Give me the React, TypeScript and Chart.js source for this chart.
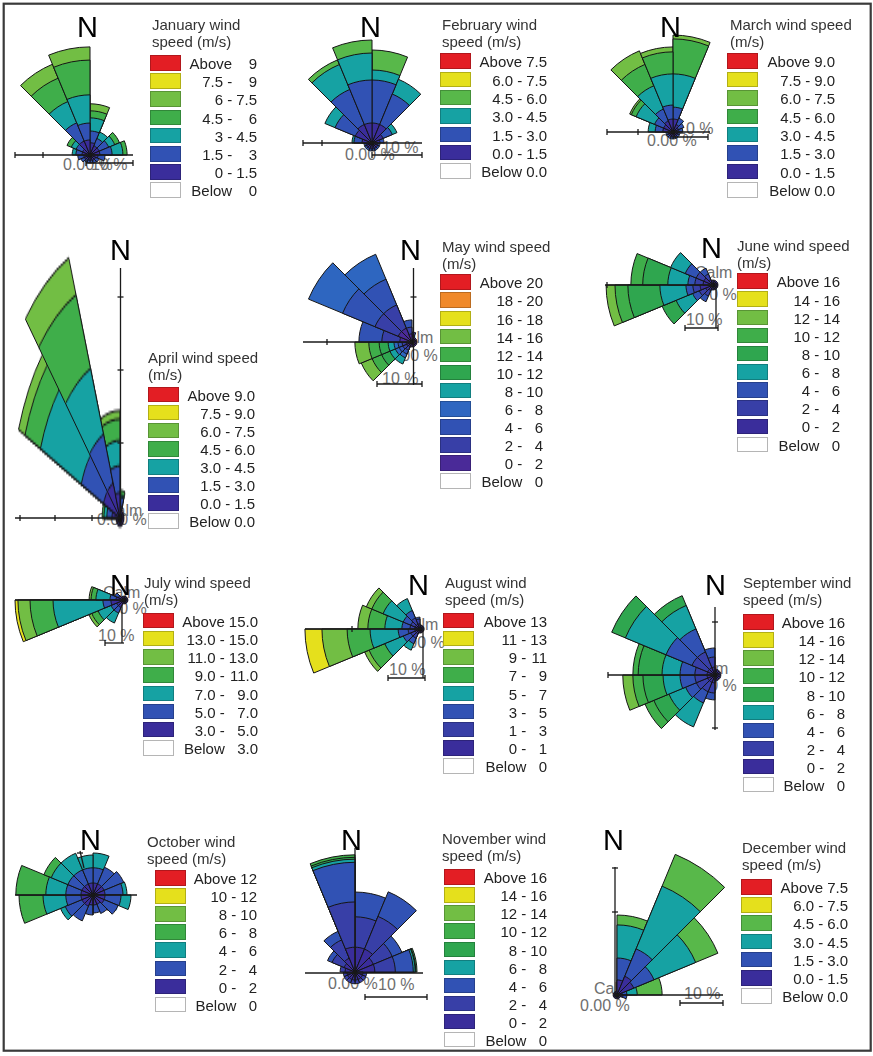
import React, { useEffect, useRef } from 'react';
import { Chart, registerables } from 'chart.js';

Chart.register(...registerables);

const DIRECTIONS = ['N', 'NNE', 'NE', 'ENE', 'E', 'ESE', 'SE', 'SSE', 'S', 'SSW', 'SW', 'WSW', 'W', 'WNW', 'NW', 'NNW'];

const RED = '#e31e24';
const ORANGE = '#f0892a';
const YELLOW = '#e5e01c';
const LGREEN = '#72be44';
const MGREEN = '#58b84a';
const GREEN = '#3fae4a';
const GREEN2 = '#2fa64f';
const TEAL = '#16a2a3';
const BLUE2 = '#2e66c0';
const BLUE = '#3152b4';
const BLUE3 = '#383fa7';
const INDIGO = '#3a2d9b';
const PURPLE = '#4a2a98';

// ---------- January ----------
const JAN_TITLE = ['January wind', 'speed (m/s)'];
const JAN_LO = ['Above', '7.5 -', '6 -', '4.5 -', '3 -', '1.5 -', '0 -', 'Below'];
const JAN_HI = ['9', '9', '7.5', '6', '4.5', '3', '1.5', '0'];
const JAN_COLORS = [RED, YELLOW, LGREEN, GREEN, TEAL, BLUE, INDIGO];
const JAN_FREQ = [
  [2.6, 2.5, 2.8, 1.5, 1.5], [2.1, 1.7, 1.5], [2.1, 2.2, 1.4, 1.1], [2.1, 2.6, 2.3, 0.9],
  [1.7, 1.5], [1.3, 0.8], [1.3, 0.6], [1.1, 0.6],
  [1.1, 0.6], [1.1, 0.6], [1.3, 0.8], [1.3, 1.3],
  [1.7, 1.3, 0.8], [1.7, 1.5, 1.1, 1.0], [3.2, 4.2, 4.9, 5.4, 3.2], [3.2, 3.6, 6.0, 7.4, 2.8],
];

// ---------- February ----------
const FEB_TITLE = ['February wind', 'speed (m/s)'];
const FEB_LO = ['Above', '6.0 -', '4.5 -', '3.0 -', '1.5 -', '0.0 -', 'Below'];
const FEB_HI = ['7.5', '7.5', '6.0', '4.5', '3.0', '1.5', '0.0'];
const FEB_COLORS = [RED, YELLOW, MGREEN, TEAL, BLUE, INDIGO];
const FEB_FREQ = [
  [4.0, 8.6, 2.0, 4.0], [4.0, 6.6, 3.2], [2.4, 2.0, 1.0], [1.6, 0.8],
  [1.2, 0.4], [1.2, 0.4], [1.2, 0.4], [1.2, 0.4],
  [1.2, 0.4], [1.2, 0.4], [1.2, 0.4], [1.2, 0.4],
  [2.0, 1.6, 0.4], [3.6, 4.4, 2.2], [4.0, 7.6, 5.4, 1.0], [4.0, 8.6, 5.4, 2.6],
];

// ---------- March ----------
const MAR_TITLE = ['March wind speed', '(m/s)'];
const MAR_LO = ['Above', '7.5 -', '6.0 -', '4.5 -', '3.0 -', '1.5 -', '0.0 -', 'Below'];
const MAR_HI = ['9.0', '9.0', '7.5', '6.0', '4.5', '3.0', '1.5', '0.0'];
const MAR_COLORS = [RED, YELLOW, LGREEN, GREEN, TEAL, BLUE, INDIGO];
const MAR_FREQ = [
  [3.7, 3.4, 9.5, 10.0, 1.1], [2.3, 2.0], [1.7, 1.7], [1.7, 1.1],
  [1.4, 0.6], [1.4, 0.6], [1.4, 0.6], [1.4, 0.6],
  [1.4, 0.6], [1.4, 0.6], [1.4, 0.6], [1.4, 0.6],
  [2.9, 2.2, 2.0], [2.9, 2.8, 5.7, 1.5, 0.5], [3.4, 3.7, 7.2, 6.6, 4.2], [3.7, 4.0, 8.9, 6.3, 1.4],
];

// ---------- April ----------
const APR_TITLE = ['April wind speed', '(m/s)'];
const APR_LO = ['Above', '7.5 -', '6.0 -', '4.5 -', '3.0 -', '1.5 -', '0.0 -', 'Below'];
const APR_HI = ['9.0', '9.0', '7.5', '6.0', '4.5', '3.0', '1.5', '0.0'];
const APR_COLORS = [RED, YELLOW, LGREEN, GREEN, TEAL, BLUE, INDIGO];
const APR_FREQ = [
  [1.6, 1.1, 0.3, 0.6], [1.1], [1.1], [1.1],
  [1.1], [1.1], [1.1], [1.1],
  [1.1], [1.1], [1.1], [1.1],
  [2.2, 1.4, 0.8, 0.5], [4.9, 6.6, 12.1, 4.6, 1.9], [4.9, 6.9, 9.3, 10.4, 5.2], [3.3, 3.5, 3.3, 2.8, 1.1],
];

// ---------- May ----------
const MAY_TITLE = ['May wind speed', '(m/s)'];
const MAY_LO = ['Above', '18 -', '16 -', '14 -', '12 -', '10 -', '8 -', '6 -', '4 -', '2 -', '0 -', 'Below'];
const MAY_HI = ['20', '20', '18', '16', '14', '12', '10', '8', '6', '4', '2', '0'];
const MAY_COLORS = [RED, ORANGE, YELLOW, LGREEN, GREEN, GREEN2, TEAL, BLUE2, BLUE, BLUE3, PURPLE];
const MAY_FREQ = [
  [1.3, 0.9], [1.1], [1.1], [1.1],
  [1.1], [1.1], [1.1], [1.1],
  [1.1], [1.1, 0.9, 0.9, 0.9, 1.5], [1.3, 0.9, 0.9, 0.9, 1.3, 2.0, 2.3, 2.6], [1.3, 0.9, 0.9, 0.9, 1.3, 2.0, 2.3, 3.1],
  [2.7, 4.0, 5.1], [3.3, 5.6, 7.8, 8.2], [3.3, 5.6, 6.2, 6.0], [1.8, 1.5, 1.6],
];

// ---------- June ----------
const JUN_TITLE = ['June wind speed', '(m/s)'];
const JUN_LO = ['Above', '14 -', '12 -', '10 -', '8 -', '6 -', '4 -', '2 -', '0 -', 'Below'];
const JUN_HI = ['16', '16', '14', '12', '10', '8', '6', '4', '2', '0'];
const JUN_COLORS = [RED, YELLOW, LGREEN, GREEN, GREEN2, TEAL, BLUE, BLUE3, INDIGO];
const JUN_FREQ = [
  [1.5], [1.5], [1.5], [1.5],
  [1.5], [1.5], [1.5], [1.5],
  [1.5], [1.8, 1.8, 1.9], [2.4, 2.1, 2.2, 5.4, 4.6], [3.9, 2.2, 2.1, 7.9, 9.7, 3.9, 2.7],
  [3.0, 2.5, 2.1, 6.1, 7.6, 3.6], [3.0, 2.5, 3.6, 4.8], [1.8, 1.8, 1.9], [1.5],
];

// ---------- July ----------
const JUL_TITLE = ['July wind speed', '(m/s)'];
const JUL_LO = ['Above', '13.0 -', '11.0 -', '9.0 -', '7.0 -', '5.0 -', '3.0 -', 'Below'];
const JUL_HI = ['15.0', '15.0', '13.0', '11.0', '9.0', '7.0', '5.0', '3.0'];
const JUL_COLORS = [RED, YELLOW, LGREEN, GREEN, TEAL, BLUE, INDIGO];
const JUL_FREQ = [
  [2.0], [2.0], [2.0], [2.0],
  [2.0], [2.0], [2.0], [2.0],
  [2.0], [4.1, 3.1, 5.6], [4.1, 3.1, 7.2, 3.5, 1.6], [6.7, 4.1, 25.6, 11.8, 6.2, 1.5],
  [4.1, 3.1, 7.2, 2.5, 1.0], [3.1, 2.0], [2.0], [2.0],
];

// ---------- August ----------
const AUG_TITLE = ['August wind', 'speed (m/s)'];
const AUG_LO = ['Above', '11 -', '9 -', '7 -', '5 -', '3 -', '1 -', '0 -', 'Below'];
const AUG_HI = ['13', '13', '11', '9', '7', '5', '3', '1', '0'];
const AUG_COLORS = [RED, YELLOW, LGREEN, GREEN, TEAL, BLUE, BLUE3, INDIGO];
const AUG_FREQ = [
  [1.1], [1.1], [1.1], [1.1],
  [1.1], [1.1], [1.1], [1.1],
  [1.1], [1.4, 1.3, 1.6, 1.9], [1.4, 1.3, 2.2, 5.4, 4.6, 1.3], [1.4, 1.8, 2.7, 7.6, 6.2, 6.8, 4.6],
  [1.4, 1.3, 2.2, 4.6, 4.6, 2.7], [1.4, 1.3, 2.2, 5.9, 3.3, 1.6], [1.4, 1.8, 2.2, 3.5], [1.4, 1.3, 0.5],
];

// ---------- September ----------
const SEP_TITLE = ['September wind', 'speed (m/s)'];
const SEP_LO = ['Above', '14 -', '12 -', '10 -', '8 -', '6 -', '4 -', '2 -', '0 -', 'Below'];
const SEP_HI = ['16', '16', '14', '12', '10', '8', '6', '4', '2', '0'];
const SEP_COLORS = [RED, YELLOW, LGREEN, GREEN, GREEN2, TEAL, BLUE, BLUE3, INDIGO];
const SEP_FREQ = [
  [1.1], [1.1], [1.1], [1.1],
  [1.1], [1.1], [1.1], [1.1],
  [1.5, 1.9, 1.3], [1.5, 1.9, 2.3, 4.9], [1.5, 2.3, 2.2, 3.4, 3.1, 1.8], [1.5, 2.3, 2.8, 3.2, 3.8, 1.9, 1.9],
  [1.5, 2.3, 2.8, 3.4, 4.5, 1.0], [1.5, 3.2, 5.3, 8.3, 2.8], [1.5, 3.2, 4.7, 4.8, 2.0], [1.5, 1.9, 1.7],
];

// ---------- October ----------
const OCT_TITLE = ['October wind', 'speed (m/s)'];
const OCT_LO = ['Above', '10 -', '8 -', '6 -', '4 -', '2 -', '0 -', 'Below'];
const OCT_HI = ['12', '12', '10', '8', '6', '4', '2', '0'];
const OCT_COLORS = [RED, YELLOW, LGREEN, GREEN, TEAL, BLUE, INDIGO];
const OCT_FREQ = [
  [3.0, 3.8, 3.7], [3.0, 4.5], [3.0, 5.3], [3.0, 4.5, 1.0],
  [3.0, 4.0, 2.5], [3.0, 3.8], [2.5, 2.5], [2.5, 2.0],
  [2.5, 2.5], [3.0, 4.0], [3.0, 4.5, 1.3], [3.0, 3.8, 5.7, 6.0],
  [3.0, 3.8, 5.0, 7.5], [3.0, 3.8, 4.5, 2.0], [3.0, 3.8, 4.5], [3.0, 3.8, 3.2],
];

// ---------- November ----------
const NOV_TITLE = ['November wind', 'speed (m/s)'];
const NOV_LO = ['Above', '14 -', '12 -', '10 -', '8 -', '6 -', '4 -', '2 -', '0 -', 'Below'];
const NOV_HI = ['16', '16', '14', '12', '10', '8', '6', '4', '2', '0'];
const NOV_COLORS = [RED, YELLOW, LGREEN, GREEN, GREEN2, TEAL, BLUE, BLUE3, INDIGO];
const NOV_FREQ = [
  [4.0, 4.9, 4.0], [4.0, 5.7, 4.3], [3.2, 3.3, 1.7], [3.2, 3.3, 2.9, 0.3, 0.1, 0.2],
  [1.3, 0.6], [1.3, 0.6], [1.3, 0.6], [1.3, 0.6],
  [1.3, 0.6], [1.3, 0.6], [1.3, 0.6], [1.3, 0.6],
  [1.6, 0.8], [1.9, 2.1, 0.8], [2.4, 3.2, 1.5], [4.0, 7.3, 6.4, 0.5, 0.3, 0.4],
];

// ---------- December ----------
const DEC_TITLE = ['December wind', 'speed (m/s)'];
const DEC_LO = ['Above', '6.0 -', '4.5 -', '3.0 -', '1.5 -', '0.0 -', 'Below'];
const DEC_HI = ['7.5', '7.5', '6.0', '4.5', '3.0', '1.5', '0.0'];
const DEC_COLORS = [RED, YELLOW, MGREEN, TEAL, BLUE, INDIGO];
const DEC_FREQ = [
  [3.5, 5.1, 7.7, 2.3], [4.7, 6.9, 15.8, 8.0], [4.2, 5.1, 10.5, 5.6], [1.2, 1.1, 2.4, 5.8],
  [1.4, 0.9], [0.9], [0.9], [0.9],
  [0.9], [0.9], [0.9], [0.9],
  [0.9], [0.9], [0.9], [0.9],
];

const MONTHS = [
  { title: JAN_TITLE, lo: JAN_LO, hi: JAN_HI, colors: JAN_COLORS, freq: JAN_FREQ },
  { title: FEB_TITLE, lo: FEB_LO, hi: FEB_HI, colors: FEB_COLORS, freq: FEB_FREQ },
  { title: MAR_TITLE, lo: MAR_LO, hi: MAR_HI, colors: MAR_COLORS, freq: MAR_FREQ },
  { title: APR_TITLE, lo: APR_LO, hi: APR_HI, colors: APR_COLORS, freq: APR_FREQ },
  { title: MAY_TITLE, lo: MAY_LO, hi: MAY_HI, colors: MAY_COLORS, freq: MAY_FREQ },
  { title: JUN_TITLE, lo: JUN_LO, hi: JUN_HI, colors: JUN_COLORS, freq: JUN_FREQ },
  { title: JUL_TITLE, lo: JUL_LO, hi: JUL_HI, colors: JUL_COLORS, freq: JUL_FREQ },
  { title: AUG_TITLE, lo: AUG_LO, hi: AUG_HI, colors: AUG_COLORS, freq: AUG_FREQ },
  { title: SEP_TITLE, lo: SEP_LO, hi: SEP_HI, colors: SEP_COLORS, freq: SEP_FREQ },
  { title: OCT_TITLE, lo: OCT_LO, hi: OCT_HI, colors: OCT_COLORS, freq: OCT_FREQ },
  { title: NOV_TITLE, lo: NOV_LO, hi: NOV_HI, colors: NOV_COLORS, freq: NOV_FREQ },
  { title: DEC_TITLE, lo: DEC_LO, hi: DEC_HI, colors: DEC_COLORS, freq: DEC_FREQ },
];

// ---------- layout (positions only) ----------
const tV = (x, y) => [x, y - 3, x, y + 3];
const tH = (x, y) => [x - 3, y, x + 3, y];

const LAYOUT = [
  { cx: 90, cy: 155, p10: 47, stretch: 1, N: [79, 17], title: [152, 19.3], sw: [150, 55], pitch: 18.2, right: 257,
    texts: [['0.00 %', 63, 159], ['10 %', 91, 159]],
    lines: [[15, 155, 133, 155], tV(43, 155), tV(15, 155), [86, 163, 133, 163], tV(86, 163), tV(133, 163)] },
  { cx: 372, cy: 143, p10: 50, stretch: 1, N: [362, 17], title: [442, 19], sw: [440, 53.3], pitch: 18.3, right: 547,
    texts: [['0.00 %', 345, 149], ['10 %', 382, 141.5]],
    lines: [[303, 143, 422, 143], tV(322, 143), tV(303, 143), [372, 155, 422, 155], tV(372, 155), tV(422, 155)] },
  { cx: 673, cy: 132, p10: 35, stretch: 1, N: [662, 17], title: [730, 19], sw: [727, 53.3], pitch: 18.4, right: 835,
    texts: [['0.00 %', 647, 135], ['10 %', 677, 122.5]],
    lines: [[607, 132, 710, 132], tV(638, 132), tV(607, 132), [673, 137, 708, 137], tV(708, 137)] },
  { cx: 120, cy: 518, p10: 36.5, stretch: 2.1, N: [112, 240], title: [148, 351.7], sw: [148, 386.7], pitch: 18.1, right: 255,
    texts: [['Calm', 105, 505], ['0.00 %', 97, 514]],
    lines: [[15, 518, 120, 518], tV(20, 518), tV(55, 518), tV(92, 518), [120.5, 268, 120.5, 518], tH(120.5, 297), tH(120.5, 370), tH(120.5, 443)] },
  { cx: 412, cy: 342, p10: 45, stretch: 1, N: [402, 240], title: [442, 241], sw: [440, 274.3], pitch: 18.1, right: 543,
    texts: [['Calm', 396, 331.5], ['0.00 %', 388, 350], ['10 %', 382, 372.5]],
    lines: [[303, 342, 412, 342], tV(327, 342), [413.5, 268, 413.5, 385], tH(413.5, 297), [377, 384, 422, 384], tV(377, 384), tV(422, 384)] },
  { cx: 713, cy: 285, p10: 33, stretch: 1, N: [703, 238], title: [737, 240], sw: [737, 273.3], pitch: 18.15, right: 840,
    texts: [['Calm', 695, 266.5], ['0.00 %', 687, 289], ['10 %', 686, 314]],
    lines: [[605, 285, 713, 285], tV(607, 285), [716, 285, 716, 328], [685, 328, 718, 328], tV(685, 328), tV(718, 328)] },
  { cx: 124, cy: 600, p10: 19.5, stretch: 1, N: [112, 575], title: [144, 576.7], sw: [143.3, 612.7], pitch: 18.2, right: 258,
    texts: [['Calm', 103, 586.5], ['0.00 %', 97, 602.5], ['10 %', 98, 630]],
    lines: [[15, 600, 124, 600], [122, 605, 122, 643], [105, 643, 124, 643], tV(105, 643)] },
  { cx: 420, cy: 629, p10: 37, stretch: 1, N: [410, 575], title: [445, 577.3], sw: [443.3, 612.7], pitch: 18.2, right: 547,
    texts: [['Calm', 401, 619], ['0.00 %', 395, 637], ['10 %', 389, 664]],
    lines: [[305, 629, 421, 629], tV(352, 629), [423, 629, 423, 678], [388, 678, 425, 678], tV(388, 678), tV(425, 678)] },
  { cx: 715, cy: 675, p10: 53, stretch: 1, N: [707, 575], title: [743, 576.7], sw: [743.3, 614.3], pitch: 18.05, right: 845,
    texts: [['Calm', 691, 663], ['0.00 %', 687, 680]],
    lines: [[608, 675, 715, 675], tV(608, 675), [715, 607, 715, 730], tH(715, 622), tH(715, 728)] },
  { cx: 93, cy: 895, p10: 40, stretch: 1, N: [82, 830], title: [147, 835.7], sw: [155, 870], pitch: 18.1, right: 257,
    texts: [['0.00 %', 68, 900]],
    lines: [[15, 895, 137, 895], [93, 895, 93, 915], [80, 851, 84, 868], tH(80, 853)] },
  { cx: 355, cy: 972, p10: 62, stretch: 1, N: [343, 830], title: [442, 833.3], sw: [444, 869.3], pitch: 18.05, right: 547,
    texts: [['Calm', 340, 961.5], ['0.00 %', 328, 978], ['10 %', 378, 979]],
    lines: [[305, 973, 423, 973], [355, 848, 355, 982], [365, 997, 427, 997], tV(365, 997), tV(427, 997)] },
  { cx: 617, cy: 995, p10: 43, stretch: 1, N: [605, 830], title: [742, 842.3], sw: [740.7, 879], pitch: 18.2, right: 848,
    texts: [['Calm', 594, 983], ['0.00 %', 580, 1000], ['10 %', 684, 987.5]],
    lines: [[615, 867, 615, 995], tH(615, 868), tH(615, 912), [615, 995, 723, 995], [680, 1003, 723, 1003], tV(680, 1003), tV(723, 1003)] },
];

const FONT = '"Liberation Sans", Arial, Helvetica, sans-serif';

function Rose({ freq, colors, cx, cy, p10, stretch }) {
  const ref = useRef(null);
  const pxPerPct = p10 / 10;
  const totals = freq.map((s) => s.reduce((a, b) => a + b, 0));
  const R = Math.ceil(Math.max(...totals) * pxPerPct) + 3;
  useEffect(() => {
    const canvas = ref.current;
    if (!canvas) return;
    const nClasses = Math.max(...freq.map((s) => s.length));
    const datasets = [];
    for (let k = 0; k < nClasses; k++) {
      datasets.push({
        label: 'class ' + k,
        data: freq.map((s) => (s.length > k ? s.slice(0, k + 1).reduce((a, b) => a + b, 0) : 0)),
        backgroundColor: colors[colors.length - 1 - k],
        borderColor: '#151515',
        borderWidth: (c) => (c.raw > 0 ? 1 : 0),
      });
    }
    const chart = new Chart(canvas, {
      type: 'polarArea',
      data: { labels: DIRECTIONS, datasets },
      options: {
        responsive: false,
        animation: false,
        events: [],
        layout: { padding: 0 },
        plugins: { legend: { display: false }, tooltip: { enabled: false } },
        scales: { r: { display: false, min: 0, max: R / pxPerPct } },
      },
    });
    return () => chart.destroy();
  }, []);
  return (
    <canvas
      ref={ref}
      width={2 * R}
      height={2 * R}
      style={{ position: 'absolute', left: cx - R, top: cy - R * stretch, width: 2 * R, height: 2 * R * stretch, zIndex: 2 }}
    />
  );
}

function Legend({ m, L }) {
  const n = m.lo.length;
  return (
    <>
      <div style={{ position: 'absolute', left: L.title[0], top: L.title[1] - 3, font: `15px ${FONT}`, lineHeight: '17px', color: '#333', whiteSpace: 'nowrap', zIndex: 4 }}>
        {m.title[0]}
        <br />
        {m.title[1]}
      </div>
      {m.lo.map((_, i) => {
        const below = i === n - 1;
        return (
          <div
            key={'s' + i}
            style={{
              position: 'absolute', left: L.sw[0], top: L.sw[1] + i * L.pitch, width: 31, height: 15.5,
              background: below ? '#fff' : m.colors[i], boxSizing: 'border-box',
              border: below ? '1px solid #b5b5b5' : '1px solid rgba(0,0,0,0.22)', zIndex: 4,
            }}
          />
        );
      })}
      <div
        style={{
          position: 'absolute', right: 873 - L.right, top: L.sw[1] - 0.5, display: 'grid',
          gridTemplateColumns: 'auto auto', columnGap: 4, gridAutoRows: L.pitch + 'px', alignItems: 'center',
          justifyItems: 'end', font: `15px ${FONT}`, color: '#222', whiteSpace: 'nowrap', zIndex: 4,
        }}
      >
        {m.lo.map((lo, i) => (
          <React.Fragment key={'l' + i}>
            <span>{lo}</span>
            <span>{m.hi[i]}</span>
          </React.Fragment>
        ))}
      </div>
    </>
  );
}

export default function App() {
  return (
    <div style={{ position: 'absolute', left: 0, top: 0, width: 873, height: 1056, overflow: 'hidden', background: '#fff', fontFamily: FONT }}>
      {LAYOUT.map((L, i) =>
        L.texts.map((t, j) => (
          <div key={`t${i}-${j}`} style={{ position: 'absolute', left: t[1], top: t[2] - 2, font: `16px ${FONT}`, lineHeight: '16px', color: '#6e6e6e', whiteSpace: 'nowrap', zIndex: 1 }}>
            {t[0]}
          </div>
        ))
      )}
      {MONTHS.map((m, i) => (
        <Rose key={'r' + i} freq={m.freq} colors={m.colors} cx={LAYOUT[i].cx} cy={LAYOUT[i].cy} p10={LAYOUT[i].p10} stretch={LAYOUT[i].stretch} />
      ))}
      <svg width={873} height={1056} style={{ position: 'absolute', left: 0, top: 0, zIndex: 3 }}>
        {LAYOUT.map((L, i) =>
          L.lines.map((l, j) => (
            <line key={`ln${i}-${j}`} x1={l[0]} y1={l[1]} x2={l[2]} y2={l[3]} stroke="#1a1a1a" strokeWidth={1.3} />
          ))
        )}
        <rect x={3.7} y={3.7} width={867} height={1047} fill="none" stroke="#3a3a3a" strokeWidth={2.2} />
      </svg>
      {LAYOUT.map((L, i) => (
        <div key={'N' + i} style={{ position: 'absolute', left: L.N[0] - 2, top: L.N[1] - 4, font: `29px ${FONT}`, lineHeight: '29px', color: '#000', zIndex: 4 }}>
          N
        </div>
      ))}
      {MONTHS.map((m, i) => (
        <Legend key={'lg' + i} m={m} L={LAYOUT[i]} />
      ))}
    </div>
  );
}
